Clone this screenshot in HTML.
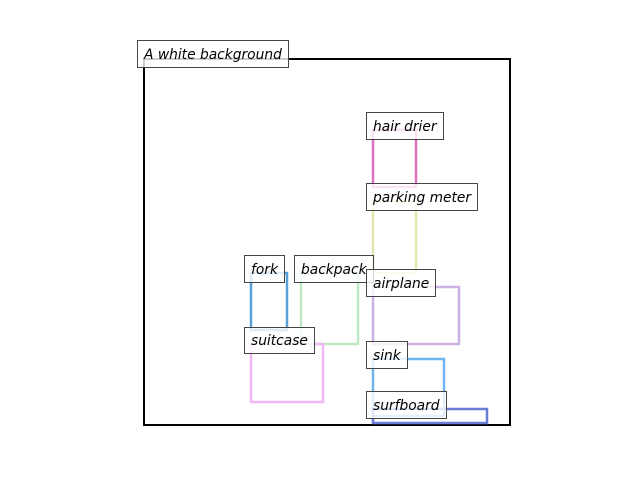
<!DOCTYPE html>
<html><head><style>html,body{margin:0;padding:0;background:#fff;}svg{display:block}text{font-family:"DejaVu Sans","Liberation Sans",sans-serif;font-style:italic;font-size:13.8px;fill:#000}</style></head>
<body>
<svg width="640" height="480" xmlns="http://www.w3.org/2000/svg">
<rect x="0" y="0" width="640" height="480" fill="#fff"/>
<rect x="144" y="59" width="366" height="366" fill="none" stroke="#000" stroke-width="2"/>
<g fill="none" stroke-width="2.5">
<rect x="373" y="130" width="43" height="57" stroke="#e070c0"/>
<rect x="373" y="201" width="43" height="72" stroke="#e6e6b0"/>
<rect x="251" y="273" width="36" height="57" stroke="#5aa0d8"/>
<rect x="301" y="273" width="57" height="71" stroke="#bfe8c4"/>
<rect x="251" y="344" width="72" height="58" stroke="#f0b8f4"/>
<rect x="373" y="287" width="86" height="57" stroke="#cdb0e4"/>
<rect x="373" y="359" width="71" height="57" stroke="#70b4ee"/>
<rect x="373" y="409" width="114" height="14" stroke="#6a7ed8"/>
</g>
<g fill="#fff" fill-opacity="0.8" stroke="#444" stroke-width="1">
<rect x="137.5" y="40.5" width="151" height="27"/>
<rect x="366.5" y="112.5" width="77" height="27"/>
<rect x="366.5" y="183.5" width="111" height="27"/>
<rect x="244.5" y="255.5" width="40" height="27"/>
<rect x="294.5" y="255.5" width="79" height="27"/>
<rect x="366.5" y="269.5" width="69" height="27"/>
<rect x="244.5" y="327.5" width="70" height="26"/>
<rect x="366.5" y="341.5" width="41" height="27"/>
<rect x="366.5" y="391.5" width="80" height="27"/>
</g>
<text x="144" y="59">A white background</text>
<text x="373" y="131">hair drier</text>
<text x="373" y="202">parking meter</text>
<text x="251" y="274">fork</text>
<text x="301" y="274">backpack</text>
<text x="373" y="288">airplane</text>
<text x="251" y="345">suitcase</text>
<text x="373" y="360">sink</text>
<text x="373" y="410">surfboard</text>
</svg>
</body></html>
